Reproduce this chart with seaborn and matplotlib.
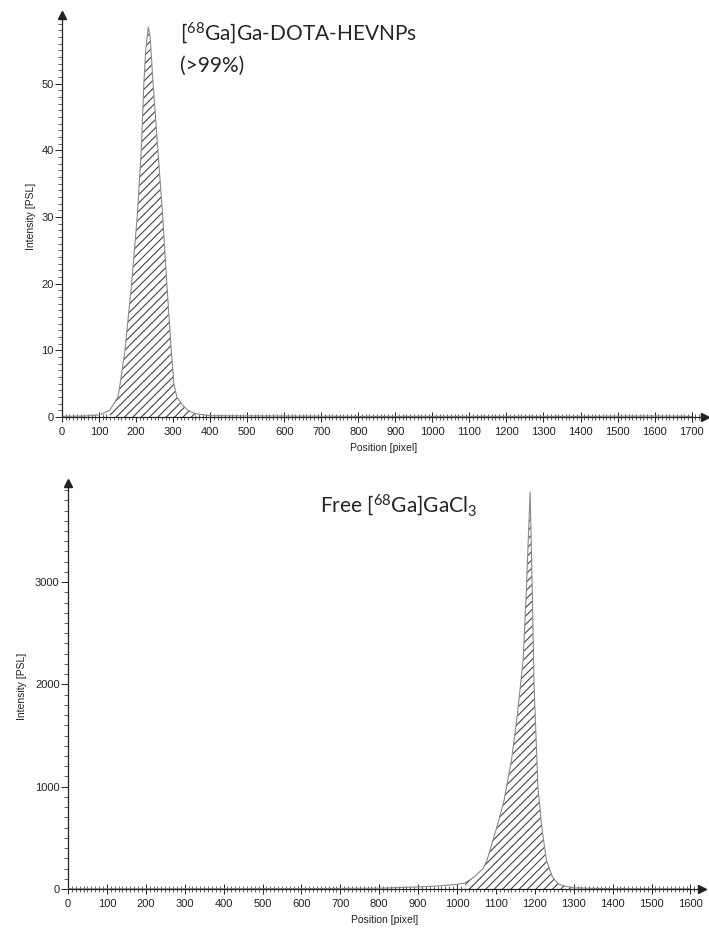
import matplotlib
matplotlib.use("Agg")
import matplotlib.pyplot as plt
import seaborn as sns
import pandas as pd
from matplotlib.ticker import MultipleLocator, FixedLocator

# Radio-TLC scans
top_pos = [0, 60, 100, 129, 140, 151, 157, 170, 188, 203, 214, 221, 226, 233, 238, 246,
           259, 272, 283, 295, 302, 310, 325, 340, 360, 400, 600, 800, 1000, 1200, 1400, 1600, 1700]
top_val = [0.1, 0.15, 0.3, 1.0, 2.0, 3.0, 5.0, 10, 20, 30, 40, 50, 55, 58.5, 57, 50,
           40, 30, 20, 10, 5.0, 3.0, 1.8, 1.0, 0.5, 0.2, 0.15, 0.1, 0.1, 0.1, 0.1, 0.15, 0.1]

bot_pos = [0, 200, 400, 600, 800, 900, 950, 1000, 1021, 1045, 1067, 1077, 1102, 1120, 1140,
           1155, 1170, 1178, 1183, 1188, 1193, 1198, 1203, 1208, 1218, 1230, 1245, 1260,
           1280, 1300, 1350, 1450, 1600]
bot_val = [2, 2, 3, 4, 8, 20, 30, 45, 60, 120, 200, 280, 600, 850, 1260,
           1700, 2240, 2900, 3400, 3880, 3000, 2000, 1500, 1000, 600, 280, 120, 50,
           25, 12, 6, 3, 2]

top_region = (110, 365)
bot_region = (1021, 1300)

top_ticks = [0, 10, 20, 30, 40, 50]
bot_ticks = [0, 1000, 2000, 3000]

top_label = r"[$\mathregular{^{68}}$Ga]Ga-DOTA-HEVNPs"
top_label2 = "(>99%)"
bot_label = r"Free [$\mathregular{^{68}}$Ga]GaCl$\mathregular{_3}$"

sns.set_style("white")
plt.rcParams["font.family"] = ["Liberation Sans", "DejaVu Sans"]
plt.rcParams["mathtext.fontset"] = "custom"
plt.rcParams["mathtext.rm"] = "Lato"
plt.rcParams["hatch.linewidth"] = 0.8
plt.rcParams["hatch.color"] = "#444444"

top = pd.DataFrame({"pos": top_pos, "val": top_val})
bot = pd.DataFrame({"pos": bot_pos, "val": bot_val})

fig = plt.figure(figsize=(7.09, 9.32), dpi=100)
ax1 = fig.add_axes([62 / 709, (932 - 417) / 932, 642.6 / 709, 402 / 932])
ax2 = fig.add_axes([68 / 709, (932 - 889) / 932, 633.7 / 709, 406 / 932])


def draw(ax, df, region, xmax, ymax, yticks, yminor, ylabpad):
    sns.lineplot(data=df, x="pos", y="val", ax=ax, color="#8a8a8a", linewidth=0.8)
    part = df[(df["pos"] >= region[0]) & (df["pos"] <= region[1])]
    ax.fill_between(part["pos"], 0, part["val"], facecolor="white", edgecolor="#444444",
                    hatch="////", linewidth=0)
    ax.set_xlim(0, xmax)
    ax.set_ylim(0, ymax)
    ax.xaxis.set_major_locator(MultipleLocator(100))
    ax.xaxis.set_minor_locator(MultipleLocator(10))
    ax.yaxis.set_major_locator(FixedLocator(yticks))
    ax.yaxis.set_minor_locator(MultipleLocator(yminor))
    ax.tick_params(axis="x", which="major", direction="inout", length=7, width=0.7,
                   labelsize=8, colors="#222222", pad=4)
    ax.tick_params(axis="x", which="minor", direction="inout", length=4, width=0.5)
    ax.tick_params(axis="y", which="major", direction="out", length=5, width=0.7,
                   labelsize=8, colors="#222222", pad=1)
    ax.tick_params(axis="y", which="minor", direction="out", length=3, width=0.5)
    ax.tick_params(bottom=True, left=True, which="both")
    for s in ["top", "right"]:
        ax.spines[s].set_visible(False)
    for s in ["left", "bottom"]:
        ax.spines[s].set_color("#222222")
        ax.spines[s].set_linewidth(0.9)
    ax.plot(1, 0, ">", color="#222222", ms=6, transform=ax.get_yaxis_transform(), clip_on=False)
    ax.plot(0, 1, "^", color="#222222", ms=6, transform=ax.get_xaxis_transform(), clip_on=False)
    ax.set_xlabel("Position [pixel]", fontsize=7.5, color="#222222", labelpad=4)
    ax.set_ylabel("Intensity [PSL]", fontsize=7.5, color="#222222", labelpad=ylabpad)


draw(ax1, top, top_region, 1735, 60.3, top_ticks, 1, 4)
draw(ax2, bot, bot_region, 1629, 3969, bot_ticks, 100, 6)

fig.text(180 / 709, 1 - 33 / 932, top_label, fontsize=15, family="Lato", va="center", ha="left")
fig.text(180 / 709, 1 - 66 / 932, top_label2, fontsize=15, family="Lato", va="center", ha="left")
fig.text(320 / 709, 1 - 505 / 932, bot_label, fontsize=15, family="Lato", va="center", ha="left")

fig.savefig("out.png", dpi=100)
